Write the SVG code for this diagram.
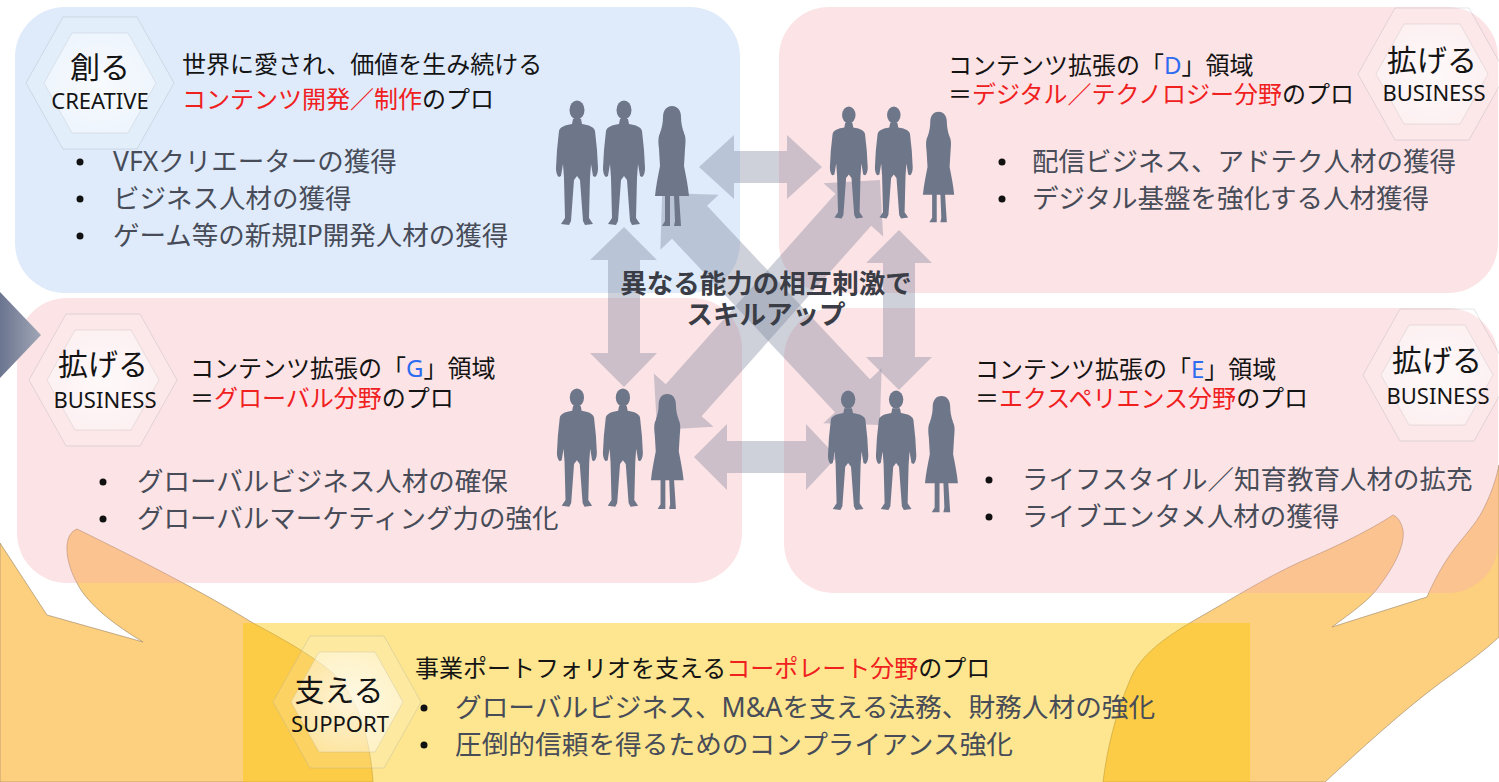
<svg xmlns="http://www.w3.org/2000/svg" xmlns:xlink="http://www.w3.org/1999/xlink" width="1499" height="782" viewBox="0 0 1499 782">
  <style>
    text { font-family: "Noto Sans", "Noto Sans CJK JP", sans-serif; }
    .hd { font-size: 24px; fill: #141414; }
    .red { fill: #f0201e; }
    .blue { fill: #2d6cf0; }
    .bl { font-size: 26.5px; fill: #474c58; }
    .bls { font-size: 26.7px; fill: #474c58; }
    .labja { font-size: 30px; fill: #141414; text-anchor: middle; }
    .laben { font-size: 22px; fill: #141414; text-anchor: middle; }
    .ctr { font-size: 26.5px; font-weight: 700; fill: #3a3d46; text-anchor: middle; }
    .dot { fill: #111; }
    .hand { fill: #fdd07f; stroke: #a89070; stroke-width: 1; stroke-opacity: 0.7; }
    .pink { fill: #f7aab1; fill-opacity: 0.33; }
    .blueP { fill: #dfebfb; }
    .hexO { fill: #ffffff; fill-opacity: 0.15; stroke: #9aa0aa; stroke-opacity: 0.28; stroke-width: 1; }
    .hexI { fill: url(#hexGlow); stroke: #9aa0aa; stroke-opacity: 0.22; stroke-width: 1; }
    .arr { fill: #7d869e; fill-opacity: 0.38; }
    .person { fill: #6e768a; }
  </style>
  <defs>
    <radialGradient id="hexGlow" cx="0.5" cy="0.5" r="0.6">
      <stop offset="0" stop-color="#ffffff" stop-opacity="0.75"/>
      <stop offset="1" stop-color="#ffffff" stop-opacity="0.35"/>
    </radialGradient>
    <linearGradient id="edgeArrow" x1="0" y1="0" x2="1" y2="0">
      <stop offset="0" stop-color="#6c7590"/>
      <stop offset="1" stop-color="#a0a6b6"/>
    </linearGradient>
    <polygon id="hexOuter" points="-74,0 -37,-66 37,-66 74,0 37,66 -37,66"/>
    <polygon id="hexInner" points="-56,0 -28,-50 28,-50 56,0 28,50 -28,50"/>
    <symbol id="man" overflow="visible">
      <ellipse cx="22" cy="10" rx="7.5" ry="9.5"/>
      <path d="M18,19 L26,19 L27,24 C34,25 39,27 40,31 L42,50 L43,68 C43,72 42,76 40,77 L38,76 L37,70 L36,64 L35,78 L34,118 L38,124 L30,125 L28,121 L25,80 L22,76 L19,80 L16,121 L14,125 L6,124 L10,118 L9,78 L8,64 L7,70 L6,76 L4,77 C2,76 1,72 1,68 L2,50 L4,31 C5,27 10,25 17,24 Z"/>
    </symbol>
    <symbol id="woman" overflow="visible">
      <path d="M18,2 C24,2 27,7 27,13 C27,18 28,24 30,29 L6,29 C8,24 9,18 9,13 C9,7 12,2 18,2 Z"/>
      <path d="M8,27 C4,30 4,36 5,45 L6,62 C4,72 2,82 1,92 L35,92 C34,82 32,72 30,62 L31,45 C32,36 32,30 28,27 Z"/>
      <path d="M11,91 L11,117 L8,122 L16,122 L16,91 Z"/>
      <path d="M20,91 L21,117 L20,122 L27,122 L25,91 Z"/>
    </symbol>
  </defs>

  <rect width="1499" height="782" fill="#ffffff"/>

  <!-- supporting hands (drawn first, panels tint them) -->
  <g id="hands">
    <path class="hand" d="M0,543 L47,615 L143,642 C115,625 88,605 77,583 C67,565 64,545 70,535 Q73,530 77,529 C130,555 200,590 253,623 C290,643 320,660 340,680 C360,705 370,740 373,782 L0,782 Z"/>
    <path class="hand" d="M1499,465 C1495,485 1488,500 1483,510 C1475,525 1465,535 1455,548 C1442,565 1433,583 1427,597 L1332,627 C1352,612 1370,600 1380,585 C1395,565 1405,545 1403,530 C1401,522 1398,517 1393,515 C1370,530 1340,545 1300,562 C1265,578 1230,600 1200,617 C1165,637 1140,655 1130,680 C1115,715 1107,750 1103,782 L1325,782 C1360,750 1400,713 1440,683 C1465,665 1485,650 1499,637 Z"/>
  </g>

  <!-- area panels -->
  <g id="panel-creative">
    <rect class="blueP" x="15" y="7" width="725" height="286" rx="50"/>
  </g>
  <g id="panel-digital">
    <rect class="pink" x="779" y="7" width="719" height="286" rx="50"/>
  </g>
  <g id="panel-global">
    <rect class="pink" x="17" y="298" width="725" height="285" rx="50"/>
  </g>
  <g id="panel-experience">
    <rect class="pink" x="784" y="308" width="714" height="285" rx="50"/>
  </g>
  <g id="panel-support">
    <rect x="243" y="623" width="1007" height="160" fill="#fac600" fill-opacity="0.44"/>
  </g>

  <!-- edge pointer -->
  <g id="edge-pointer">
    <polygon points="0,292 41,335 0,378" fill="url(#edgeArrow)"/>
  </g>

  <!-- hexagon badges -->
  <g id="badges">
    <use href="#hexOuter" class="hexO" transform="translate(100,83)"/>
    <use href="#hexInner" class="hexI" transform="translate(100,83)"/>
    <use href="#hexOuter" class="hexO" transform="translate(1432,74)"/>
    <use href="#hexInner" class="hexI" transform="translate(1432,74)"/>
    <use href="#hexOuter" class="hexO" transform="translate(103,380)"/>
    <use href="#hexInner" class="hexI" transform="translate(103,380)"/>
    <use href="#hexOuter" class="hexO" transform="translate(1437,375)"/>
    <use href="#hexInner" class="hexI" transform="translate(1437,375)"/>
    <use href="#hexOuter" class="hexO" transform="translate(347,702)"/>
    <use href="#hexInner" class="hexI" transform="translate(347,702)"/>
  </g>

  <!-- exchange arrows between the four teams -->
  <g id="connectors">
    <polygon class="arr" points="699,167 734,135 734,151 787,151 787,135 822,167 787,199 787,183 734,183 734,199"/>
    <polygon class="arr" points="694,457 727,424 727,441 806,441 806,424 837,457 806,490 806,473 727,473 727,490"/>
    <polygon class="arr" points="624,227 657,260 640,260 640,353 657,353 624,387 590,353 608,353 608,260 590,260"/>
    <polygon class="arr" points="899,230 932,263 915,263 915,357 932,357 899,390 866,357 883,357 883,263 866,263"/>
    <polygon class="arr" transform="translate(771,309) rotate(46.8)" points="-159,0 -119,-40 -119,-24 119,-24 119,-40 159,0 119,40 119,24 -119,24 -119,40"/>
    <polygon class="arr" transform="translate(768.5,305) rotate(131.7)" points="-167.5,0 -127.5,-40 -127.5,-24 127.5,-24 127.5,-40 167.5,0 127.5,40 127.5,24 -127.5,24 -127.5,40"/>
  </g>

  <!-- team silhouettes -->
  <g id="people-creative" class="person">
    <use href="#man" transform="translate(555,100)"/>
    <use href="#man" transform="translate(602,100)"/>
    <use href="#woman" transform="translate(654,104)"/>
  </g>
  <g id="people-digital" class="person">
    <use href="#man" transform="translate(829,106) scale(0.9)"/>
    <use href="#man" transform="translate(874,106) scale(0.9)"/>
    <use href="#woman" transform="translate(922,110) scale(0.92,0.92)"/>
  </g>
  <g id="people-global" class="person">
    <use href="#man" transform="translate(556,388) scale(0.95)"/>
    <use href="#man" transform="translate(602,388) scale(0.95)"/>
    <use href="#woman" transform="translate(650,392) scale(0.96)"/>
  </g>
  <g id="people-experience" class="person">
    <use href="#man" transform="translate(827,390) scale(0.96)"/>
    <use href="#man" transform="translate(875,390) scale(0.96)"/>
    <use href="#woman" transform="translate(924,394) scale(0.97)"/>
  </g>

  <!-- centre caption -->
  <g id="caption">
    <text class="ctr" x="766" y="293">異なる能力の相互刺激で</text>
    <text class="ctr" x="766" y="324">スキルアップ</text>
  </g>

  <!-- creative -->
  <g id="creative">
    <text class="labja" x="100" y="78">創る</text>
    <text class="laben" x="100" y="109">CREATIVE</text>
    <text class="hd" x="182" y="73">世界に愛され、価値を生み続ける</text>
    <text class="hd" x="182" y="108"><tspan class="red">コンテンツ開発／制作</tspan>のプロ</text>
    <circle class="dot" cx="80" cy="162" r="3.5"/>
    <circle class="dot" cx="80" cy="199" r="3.5"/>
    <circle class="dot" cx="80" cy="236" r="3.5"/>
    <text class="bl" x="113" y="171">VFXクリエーターの獲得</text>
    <text class="bl" x="113" y="208">ビジネス人材の獲得</text>
    <text class="bl" x="113" y="245">ゲーム等の新規IP開発人材の獲得</text>
  </g>

  <!-- digital -->
  <g id="digital">
    <text class="labja" x="1432" y="71">拡げる</text>
    <text class="laben" x="1434" y="101">BUSINESS</text>
    <text class="hd" x="948" y="74">コンテンツ拡張の「<tspan class="blue">D</tspan>」領域</text>
    <text class="hd" x="948" y="103">＝<tspan class="red">デジタル／テクノロジー分野</tspan>のプロ</text>
    <circle class="dot" cx="1002" cy="162" r="3.5"/>
    <circle class="dot" cx="1002" cy="199" r="3.5"/>
    <text class="bl" x="1032" y="171">配信ビジネス、アドテク人材の獲得</text>
    <text class="bl" x="1032" y="208">デジタル基盤を強化する人材獲得</text>
  </g>

  <!-- global -->
  <g id="global">
    <text class="labja" x="103" y="375">拡げる</text>
    <text class="laben" x="105" y="408">BUSINESS</text>
    <text class="hd" x="190" y="377">コンテンツ拡張の「<tspan class="blue">G</tspan>」領域</text>
    <text class="hd" x="190" y="407">＝<tspan class="red">グローバル分野</tspan>のプロ</text>
    <circle class="dot" cx="103" cy="482" r="3.5"/>
    <circle class="dot" cx="103" cy="519" r="3.5"/>
    <text class="bl" x="137" y="491">グローバルビジネス人材の確保</text>
    <text class="bl" x="137" y="528">グローバルマーケティング力の強化</text>
  </g>

  <!-- experience -->
  <g id="experience">
    <text class="labja" x="1437" y="371">拡げる</text>
    <text class="laben" x="1438" y="404">BUSINESS</text>
    <text class="hd" x="975" y="378">コンテンツ拡張の「<tspan class="blue">E</tspan>」領域</text>
    <text class="hd" x="975" y="407">＝<tspan class="red">エクスペリエンス分野</tspan>のプロ</text>
    <circle class="dot" cx="989" cy="480" r="3.5"/>
    <circle class="dot" cx="989" cy="517" r="3.5"/>
    <text class="bl" x="1022" y="489">ライフスタイル／知育教育人材の拡充</text>
    <text class="bl" x="1022" y="526">ライブエンタメ人材の獲得</text>
  </g>

  <!-- support -->
  <g id="support">
    <text class="labja" x="339" y="701">支える</text>
    <text class="laben" x="340" y="732">SUPPORT</text>
    <text class="hd" x="415" y="677">事業ポートフォリオを支える<tspan class="red">コーポレート分野</tspan>のプロ</text>
    <circle class="dot" cx="424" cy="708" r="3.5"/>
    <circle class="dot" cx="424" cy="745" r="3.5"/>
    <text class="bls" x="455" y="717">グローバルビジネス、M&amp;Aを支える法務、財務人材の強化</text>
    <text class="bls" x="455" y="754">圧倒的信頼を得るためのコンプライアンス強化</text>
  </g>
</svg>
